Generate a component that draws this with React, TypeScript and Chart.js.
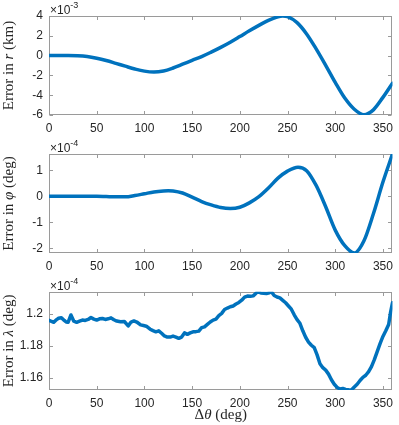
import React, { useEffect, useRef } from "react";
import { Chart, registerables } from "chart.js";
Chart.register(...registerables);

// ---------- data ----------
const xTicks = [0, 50, 100, 150, 200, 250, 300, 350];

// Error in r, units of 1e-3 km
const rAngles = [0, 10, 20, 30, 40, 50, 60, 70, 80, 90, 100, 110, 120, 130, 140, 150, 160, 170, 180, 190, 200, 210, 220, 230, 240, 245, 250, 260, 270, 280, 290, 300, 310, 320, 330, 340, 350, 360];
const rErr = [0, 0, 0, -0.02, -0.1, -0.27, -0.5, -0.78, -1.07, -1.35, -1.57, -1.66, -1.55, -1.25, -0.87, -0.48, -0.1, 0.35, 0.83, 1.35, 1.92, 2.5, 3.05, 3.55, 3.93, 4.0, 3.93, 3.33, 2.19, 0.68, -0.98, -2.71, -4.29, -5.42, -5.98, -5.48, -4.22, -2.79];
const rTicks = [-6, -4, -2, 0, 2, 4];

// Error in phi, units of 1e-4 deg
const phiAngles = [0, 10, 20, 30, 40, 50, 60, 70, 80, 90, 100, 110, 120, 125, 130, 140, 150, 160, 170, 180, 190, 200, 210, 220, 230, 240, 250, 261, 270, 280, 290, 300, 310, 320, 330, 340, 350, 360];
const phiErr = [0, 0, 0, 0, 0, 0, -0.01, -0.02, -0.02, 0.03, 0.1, 0.17, 0.21, 0.22, 0.21, 0.13, -0.03, -0.2, -0.33, -0.43, -0.47, -0.42, -0.25, -0.01, 0.32, 0.7, 0.97, 1.12, 0.99, 0.42, -0.4, -1.3, -1.9, -2.18, -1.72, -0.67, 0.55, 1.63];
const phiTicks = [-2, -1, 0, 1];

// Error in lambda, units of 1e-4 deg
const lamAngles = [0, 2, 5, 8, 10, 13, 16, 18, 20, 23, 26, 29, 32, 35, 38, 41, 44, 47, 50, 53, 56, 59, 62, 65, 68, 71, 75, 79, 83, 86, 89, 92, 96, 99, 102, 106, 109, 112, 115, 118, 121, 124, 127, 130, 133, 136, 139, 142, 145, 148, 151, 154, 157, 160, 163, 166, 169, 172, 175, 178, 181, 184, 187, 190, 193, 196, 199, 202, 205, 208, 211, 214, 217, 219, 222, 225, 228, 231, 233, 236, 239, 242, 245, 248, 251, 254, 257, 260, 263, 266, 269, 272, 275, 278, 281, 284, 287, 290, 293, 296, 299, 302, 305, 308, 311, 314, 317, 320, 323, 326, 329, 332, 335, 338, 341, 344, 347, 350, 353, 356, 358, 360];
const lamErr = [1.196, 1.1955, 1.1948, 1.1965, 1.1973, 1.1977, 1.196, 1.195, 1.1948, 1.1994, 1.1955, 1.1948, 1.1955, 1.1962, 1.196, 1.1966, 1.1978, 1.1968, 1.1962, 1.197, 1.1972, 1.1966, 1.197, 1.1976, 1.1964, 1.1956, 1.1952, 1.1953, 1.1926, 1.195, 1.1957, 1.195, 1.1932, 1.1928, 1.1924, 1.1905, 1.1896, 1.1889, 1.1895, 1.188, 1.1863, 1.1856, 1.1856, 1.1862, 1.1856, 1.1848, 1.1856, 1.1882, 1.1873, 1.1882, 1.1889, 1.189, 1.1893, 1.1915, 1.192, 1.1935, 1.195, 1.1962, 1.1968, 1.199, 1.2004, 1.2028, 1.2037, 1.2045, 1.205, 1.2062, 1.2072, 1.2086, 1.2105, 1.2112, 1.211, 1.2113, 1.213, 1.2139, 1.2131, 1.213, 1.2128, 1.2132, 1.2139, 1.2115, 1.2106, 1.21, 1.2085, 1.207, 1.205, 1.203, 1.1995, 1.1965, 1.1942, 1.1895, 1.1855, 1.1825, 1.1805, 1.179, 1.1745, 1.169, 1.1665, 1.165, 1.1625, 1.159, 1.1562, 1.1542, 1.1532, 1.1535, 1.153, 1.1527, 1.1526, 1.1545, 1.1562, 1.1585, 1.1605, 1.1618, 1.164, 1.1672, 1.1715, 1.1765, 1.1815, 1.186, 1.1895, 1.1935, 1.201, 1.207];
const lamTicks = [1.16, 1.18, 1.2];

// ---------- style ----------
const BLUE = "#0072BD";
const TXT = "#262626";
const BOX = "#9a9a9a";
const SANS = "'Liberation Sans', Arial, Helvetica, sans-serif";
const SERIF = "'Liberation Serif', 'DejaVu Serif', serif";

type Seg = { t: string; i?: boolean };

type PanelProps = {
  top: number;
  height: number;
  padTop: number;
  axisH: number;
  xs: number[];
  ys: number[];
  yMin: number;
  yMax: number;
  yTicks: number[];
  exp: string;
  ylabel: Seg[];
  xlabel?: Seg[];
  xlabelY?: number;
  smooth: boolean;
};

function drawSegs(ctx: CanvasRenderingContext2D, segs: Seg[], size: number) {
  const fonts = segs.map((s) => `${s.i ? "italic " : ""}${size}px ${SERIF}`);
  let total = 0;
  const widths = segs.map((s, k) => {
    ctx.font = fonts[k];
    const w = ctx.measureText(s.t).width;
    total += w;
    return w;
  });
  let x = -total / 2;
  segs.forEach((s, k) => {
    ctx.font = fonts[k];
    ctx.fillText(s.t, x, 0);
    x += widths[k];
  });
}

function Panel(p: PanelProps) {
  const ref = useRef<HTMLCanvasElement>(null);
  useEffect(() => {
    const canvas = ref.current!;
    const TL = 3.5;
    const deco = {
      id: "deco",
      beforeDatasetsDraw(chart: any) {
        const { ctx, chartArea } = chart;
        const { left, right, top, bottom } = chartArea;
        const xs = chart.scales.x;
        const ys = chart.scales.y;
        ctx.save();
        ctx.strokeStyle = BOX;
        ctx.lineWidth = 1;
        const L = Math.round(left) + 0.5;
        const R = Math.round(right) - 0.5;
        const T = Math.round(top) + 0.5;
        const B = Math.round(bottom) - 0.5;
        ctx.strokeRect(L, T, R - L, B - T);
        ctx.beginPath();
        xTicks.forEach((v) => {
          const px = Math.round(xs.getPixelForValue(v)) + 0.5;
          ctx.moveTo(px, B);
          ctx.lineTo(px, B - TL);
          ctx.moveTo(px, T);
          ctx.lineTo(px, T + TL);
        });
        p.yTicks.forEach((v) => {
          const py = Math.round(ys.getPixelForValue(v)) + 0.5;
          ctx.moveTo(L, py);
          ctx.lineTo(L + TL, py);
          ctx.moveTo(R, py);
          ctx.lineTo(R - TL, py);
        });
        ctx.stroke();
        ctx.restore();
      },
      afterDraw(chart: any) {
        const { ctx, chartArea } = chart;
        const { left, right, top, bottom } = chartArea;
        ctx.save();
        ctx.fillStyle = TXT;
        // exponent
        ctx.textBaseline = "alphabetic";
        ctx.textAlign = "left";
        ctx.font = `12px ${SANS}`;
        ctx.fillText("\u00d710", left + 1, top - 2);
        const w = ctx.measureText("\u00d710").width;
        ctx.font = `9px ${SANS}`;
        ctx.fillText(p.exp, left + 1 + w, top - 8);
        // y label
        ctx.save();
        ctx.translate(9, (top + bottom) / 2);
        ctx.rotate(-Math.PI / 2);
        ctx.textBaseline = "middle";
        drawSegs(ctx, p.ylabel, 15);
        ctx.restore();
        // x label
        if (p.xlabel) {
          ctx.save();
          ctx.translate((left + right) / 2, p.xlabelY!);
          ctx.textBaseline = "middle";
          drawSegs(ctx, p.xlabel, 15);
          ctx.restore();
        }
        ctx.restore();
      },
    };
    const chart = new Chart(canvas, {
      type: "line",
      data: {
        datasets: [
          {
            data: p.xs.map((x, i) => ({ x, y: p.ys[i] })),
            borderColor: BLUE,
            borderWidth: 3.5,
            pointRadius: 0,
            fill: false,
            tension: p.smooth ? 0.4 : 0,
            cubicInterpolationMode: p.smooth ? "monotone" : "default",
            borderJoinStyle: "round",
            borderCapStyle: "round",
          } as any,
        ],
      },
      options: {
        animation: false,
        responsive: false,
        devicePixelRatio: 1,
        layout: { padding: { top: p.padTop, right: 2, left: 0, bottom: 0 } },
        plugins: { legend: { display: false }, tooltip: { enabled: false } },
        scales: {
          x: {
            type: "linear",
            min: 0,
            max: 360,
            afterBuildTicks: (s: any) => {
              s.ticks = xTicks.map((v) => ({ value: v }));
            },
            afterFit: (s: any) => {
              s.height = p.axisH;
            },
            grid: { display: false, drawTicks: false },
            border: { display: false },
            ticks: {
              padding: 6,
              color: TXT,
              font: { family: SANS, size: 12 },
              maxRotation: 0,
              autoSkip: false,
              callback: (v: any) => String(v),
            },
          },
          y: {
            type: "linear",
            min: p.yMin,
            max: p.yMax,
            afterBuildTicks: (s: any) => {
              s.ticks = p.yTicks.map((v) => ({ value: v }));
            },
            afterFit: (s: any) => {
              s.width = 49;
            },
            grid: { display: false, drawTicks: false },
            border: { display: false },
            ticks: {
              padding: 6,
              color: TXT,
              font: { family: SANS, size: 12 },
              autoSkip: false,
              callback: (v: any) => String(v),
            },
          },
        },
      } as any,
      plugins: [deco],
    });
    return () => chart.destroy();
  }, []);
  return (
    <canvas
      ref={ref}
      width={399}
      height={p.height}
      style={{ position: "absolute", left: 0, top: p.top, display: "block", width: 399, height: p.height }}
    />
  );
}

export default function App() {
  useEffect(() => {
    document.body.style.margin = "0";
  }, []);
  return (
    <div style={{ position: "relative", width: 399, height: 425, background: "#fff", overflow: "hidden" }}>
      <Panel
        top={0}
        height={135}
        padTop={16}
        axisH={20}
        xs={rAngles}
        ys={rErr}
        yMin={-6}
        yMax={4}
        yTicks={rTicks}
        exp="-3"
        ylabel={[{ t: "Error in " }, { t: "r", i: true }, { t: " (km)" }]}
        smooth={true}
      />
      <Panel
        top={138}
        height={135}
        padTop={16}
        axisH={20}
        xs={phiAngles}
        ys={phiErr}
        yMin={-2.18}
        yMax={1.63}
        yTicks={phiTicks}
        exp="-4"
        ylabel={[{ t: "Error in " }, { t: "\u03c6", i: true }, { t: " (deg)" }]}
        smooth={true}
      />
      <Panel
        top={275}
        height={150}
        padTop={16.7}
        axisH={35}
        xs={lamAngles}
        ys={lamErr}
        yMin={1.1526}
        yMax={1.2139}
        yTicks={lamTicks}
        exp="-4"
        ylabel={[{ t: "Error in " }, { t: "\u03bb", i: true }, { t: " (deg)" }]}
        xlabel={[{ t: "\u0394" }, { t: "\u03b8", i: true }, { t: " (deg)" }]}
        xlabelY={140}
        smooth={false}
      />
    </div>
  );
}
